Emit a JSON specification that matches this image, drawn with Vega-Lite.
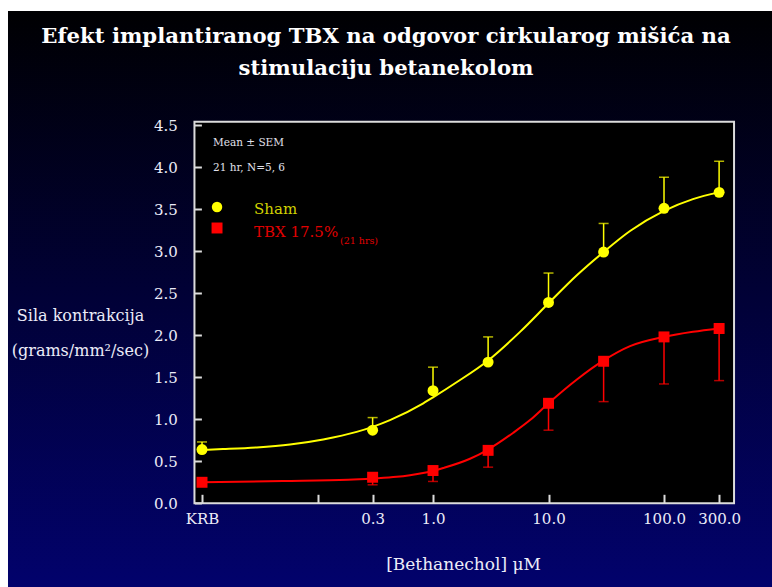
{
  "$schema": "https://vega.github.io/schema/vega-lite/v6.json",
  "width": 772,
  "height": 587,
  "autosize": {"type": "none"},
  "padding": 0,
  "background": "#ffffff",
  "config": {"view": {"stroke": null}},
  "title": {
    "text": ["Efekt implantiranog TBX na odgovor cirkularog mišića na", "stimulaciju betanekolom"],
    "anchor": "middle",
    "frame": "group",
    "orient": "top",
    "offset": -96,
    "baseline": "alphabetic",
    "lineHeight": 32,
    "font": "DejaVu Serif",
    "fontSize": 21.2,
    "fontWeight": "bold",
    "color": "#ffffff",
    "zindex": 2
  },
  "datasets": {
    "points": [
      {"conc": 0.01, "group": "Sham", "mean": 0.64, "err": 0.73},
      {"conc": 0.3, "group": "Sham", "mean": 0.87, "err": 1.02},
      {"conc": 1, "group": "Sham", "mean": 1.34, "err": 1.62},
      {"conc": 3, "group": "Sham", "mean": 1.68, "err": 1.98},
      {"conc": 10, "group": "Sham", "mean": 2.39, "err": 2.74},
      {"conc": 30, "group": "Sham", "mean": 2.99, "err": 3.33},
      {"conc": 100, "group": "Sham", "mean": 3.51, "err": 3.88},
      {"conc": 300, "group": "Sham", "mean": 3.7, "err": 4.07},
      {"conc": 0.01, "group": "TBX", "mean": 0.25, "err": 0.22},
      {"conc": 0.3, "group": "TBX", "mean": 0.31, "err": 0.22},
      {"conc": 1, "group": "TBX", "mean": 0.39, "err": 0.26},
      {"conc": 3, "group": "TBX", "mean": 0.63, "err": 0.43},
      {"conc": 10, "group": "TBX", "mean": 1.19, "err": 0.87},
      {"conc": 30, "group": "TBX", "mean": 1.69, "err": 1.21},
      {"conc": 100, "group": "TBX", "mean": 1.98, "err": 1.42},
      {"conc": 300, "group": "TBX", "mean": 2.08, "err": 1.46}
    ],
    "curves": [
      {"conc": 0.01, "group": "Sham", "fit": 0.635},
      {"conc": 0.0152, "group": "Sham", "fit": 0.645},
      {"conc": 0.0298, "group": "Sham", "fit": 0.665},
      {"conc": 0.0578, "group": "Sham", "fit": 0.70},
      {"conc": 0.112, "group": "Sham", "fit": 0.76},
      {"conc": 0.218, "group": "Sham", "fit": 0.85},
      {"conc": 0.3, "group": "Sham", "fit": 0.91},
      {"conc": 0.424, "group": "Sham", "fit": 0.99},
      {"conc": 0.824, "group": "Sham", "fit": 1.19},
      {"conc": 1.0, "group": "Sham", "fit": 1.26},
      {"conc": 1.6, "group": "Sham", "fit": 1.44},
      {"conc": 3, "group": "Sham", "fit": 1.70},
      {"conc": 5.67, "group": "Sham", "fit": 2.04},
      {"conc": 10, "group": "Sham", "fit": 2.38},
      {"conc": 17.5, "group": "Sham", "fit": 2.71},
      {"conc": 30, "group": "Sham", "fit": 2.99},
      {"conc": 50.8, "group": "Sham", "fit": 3.24},
      {"conc": 100, "group": "Sham", "fit": 3.48},
      {"conc": 178, "group": "Sham", "fit": 3.62},
      {"conc": 300, "group": "Sham", "fit": 3.70},
      {"conc": 0.01, "group": "TBX", "fit": 0.25},
      {"conc": 0.05, "group": "TBX", "fit": 0.265},
      {"conc": 0.184, "group": "TBX", "fit": 0.28},
      {"conc": 0.3, "group": "TBX", "fit": 0.295},
      {"conc": 0.485, "group": "TBX", "fit": 0.315},
      {"conc": 0.632, "group": "TBX", "fit": 0.335},
      {"conc": 0.82, "group": "TBX", "fit": 0.36},
      {"conc": 1.0, "group": "TBX", "fit": 0.385},
      {"conc": 1.23, "group": "TBX", "fit": 0.42},
      {"conc": 2.09, "group": "TBX", "fit": 0.53},
      {"conc": 3, "group": "TBX", "fit": 0.64},
      {"conc": 4.96, "group": "TBX", "fit": 0.84},
      {"conc": 6.92, "group": "TBX", "fit": 0.99},
      {"conc": 10, "group": "TBX", "fit": 1.19},
      {"conc": 17.5, "group": "TBX", "fit": 1.47},
      {"conc": 30, "group": "TBX", "fit": 1.70},
      {"conc": 50.8, "group": "TBX", "fit": 1.87},
      {"conc": 100, "group": "TBX", "fit": 1.98},
      {"conc": 178, "group": "TBX", "fit": 2.04},
      {"conc": 300, "group": "TBX", "fit": 2.08}
    ]
  },
  "layer": [
    {
      "data": {"values": [{}]},
      "mark": {
        "type": "rect",
        "fill": {
          "gradient": "linear", "x1": 0, "y1": 0, "x2": 0, "y2": 1,
          "stops": [{"offset": 0, "color": "#000002"}, {"offset": 1, "color": "#02026c"}]
        }
      },
      "encoding": {
        "x": {"datum": 0.000209, "type": "quantitative", "scale": {"type": "log", "domain": [0.0001782, 861.0], "nice": false}},
        "x2": {"datum": 861.0},
        "y": {"datum": 5.858, "type": "quantitative", "scale": {"domain": [-0.996, 5.989], "nice": false, "zero": false}},
        "y2": {"datum": -0.996}
      }
    },
    {
      "data": {"values": [{}]},
      "mark": {"type": "rect", "fill": "#000000", "stroke": "#dcdcdc", "strokeWidth": 2},
      "encoding": {
        "x": {"datum": 0.0086, "type": "quantitative"},
        "x2": {"datum": 404},
        "y": {"datum": 0, "type": "quantitative"},
        "y2": {"datum": 4.54}
      }
    },
    {
      "data": {"name": "curves"},
      "mark": {"type": "line", "interpolate": "monotone", "strokeWidth": 2},
      "encoding": {
        "x": {
          "field": "conc", "type": "quantitative",
          "axis": {
            "title": "[Bethanechol] μM",
            "zindex": 3,
            "values": [0.01, 0.1, 0.3, 1, 10, 100, 300],
            "labelExpr": "datum.value < 0.05 ? 'KRB' : (datum.value < 0.2 ? '' : format(datum.value, '.1f'))",
            "offset": -83.7,
            "domain": false,
            "grid": false,
            "tickSize": -9,
            "tickWidth": 2,
            "tickColor": "#dcdcdc",
            "labelPadding": 17,
            "labelFont": "DejaVu Serif",
            "labelFontSize": 15,
            "labelColor": "#ececf8",
            "labelBaseline": "top",
            "labelFlush": false,
            "labelOverlap": false,
            "titleFont": "DejaVu Serif",
            "titleFontSize": 17,
            "titleFontWeight": "normal",
            "titleColor": "#ececf8",
            "titleX": 463,
            "titleY": 66,
            "titleAlign": "center",
            "titleBaseline": "alphabetic"
          }
        },
        "y": {
          "field": "fit", "type": "quantitative",
          "axis": {
            "title": ["Sila kontrakcija", "(grams/mm²/sec)"],
            "zindex": 3,
            "values": [0, 0.5, 1, 1.5, 2, 2.5, 3, 3.5, 4, 4.5],
            "format": ".1f",
            "offset": -194.4,
            "domain": false,
            "grid": false,
            "tickSize": -7,
            "tickWidth": 2,
            "tickColor": "#dcdcdc",
            "labelPadding": 24,
            "labelFont": "DejaVu Serif",
            "labelFontSize": 15,
            "labelColor": "#ececf8",
            "labelOverlap": false,
            "labelFlush": false,
            "titleFont": "DejaVu Serif",
            "titleFontSize": 16,
            "titleFontWeight": "normal",
            "titleColor": "#ececf8",
            "titleAngle": 0,
            "titleAlign": "center",
            "titleBaseline": "alphabetic",
            "titleX": -114.4,
            "titleY": 320,
            "titleLineHeight": 35
          }
        },
        "color": {"field": "group", "type": "nominal", "scale": {"domain": ["Sham", "TBX"], "range": ["#ffff00", "#ff0000"]}, "legend": null}
      }
    },
    {
      "data": {"name": "points"},
      "mark": {"type": "rule", "strokeWidth": 1.5},
      "encoding": {
        "x": {"field": "conc", "type": "quantitative"},
        "y": {"field": "mean", "type": "quantitative"},
        "y2": {"field": "err"},
        "color": {"field": "group", "type": "nominal", "legend": null}
      }
    },
    {
      "data": {"name": "points"},
      "mark": {"type": "tick", "orient": "horizontal", "size": 10, "thickness": 1.5},
      "encoding": {
        "x": {"field": "conc", "type": "quantitative"},
        "y": {"field": "err", "type": "quantitative"},
        "color": {"field": "group", "type": "nominal", "legend": null}
      }
    },
    {
      "data": {"name": "points"},
      "mark": {"type": "point", "filled": true, "opacity": 1, "size": 120},
      "encoding": {
        "x": {"field": "conc", "type": "quantitative"},
        "y": {"field": "mean", "type": "quantitative"},
        "color": {"field": "group", "type": "nominal", "legend": null},
        "shape": {"field": "group", "type": "nominal", "scale": {"domain": ["Sham", "TBX"], "range": ["circle", "square"]}, "legend": null}
      }
    },
    {
      "data": {"values": [{}]},
      "mark": {"type": "point", "shape": "circle", "filled": true, "opacity": 1, "size": 110, "color": "#ffff00"},
      "encoding": {"x": {"datum": 0.01349, "type": "quantitative"}, "y": {"datum": 3.526, "type": "quantitative"}}
    },
    {
      "data": {"values": [{}]},
      "mark": {"type": "point", "shape": "square", "filled": true, "opacity": 1, "size": 120, "color": "#ff0000"},
      "encoding": {"x": {"datum": 0.01349, "type": "quantitative"}, "y": {"datum": 3.276, "type": "quantitative"}}
    },
    {
      "data": {"values": [{}]},
      "mark": {"type": "text", "text": "Mean ± SEM", "align": "left", "baseline": "alphabetic", "font": "DejaVu Serif", "fontSize": 10.5, "color": "#e0e0ec"},
      "encoding": {"x": {"datum": 0.01244, "type": "quantitative"}, "y": {"datum": 4.252, "type": "quantitative"}}
    },
    {
      "data": {"values": [{}]},
      "mark": {"type": "text", "text": "21 hr, N=5, 6", "align": "left", "baseline": "alphabetic", "font": "DejaVu Serif", "fontSize": 10.5, "color": "#e0e0ec"},
      "encoding": {"x": {"datum": 0.01244, "type": "quantitative"}, "y": {"datum": 3.955, "type": "quantitative"}}
    },
    {
      "data": {"values": [{}]},
      "mark": {"type": "text", "text": "Sham", "align": "left", "baseline": "alphabetic", "font": "DejaVu Serif", "fontSize": 15, "color": "#d2d200"},
      "encoding": {"x": {"datum": 0.0282, "type": "quantitative"}, "y": {"datum": 3.442, "type": "quantitative"}}
    },
    {
      "data": {"values": [{}]},
      "mark": {"type": "text", "text": "TBX 17.5%", "align": "left", "baseline": "alphabetic", "font": "DejaVu Serif", "fontSize": 15, "color": "#e00000"},
      "encoding": {"x": {"datum": 0.0282, "type": "quantitative"}, "y": {"datum": 3.172, "type": "quantitative"}}
    },
    {
      "data": {"values": [{}]},
      "mark": {"type": "text", "text": "(21 hrs)", "align": "left", "baseline": "alphabetic", "font": "DejaVu Serif", "fontSize": 9.5, "color": "#e00000"},
      "encoding": {"x": {"datum": 0.1566, "type": "quantitative"}, "y": {"datum": 3.085, "type": "quantitative"}}
    }
  ]
}
